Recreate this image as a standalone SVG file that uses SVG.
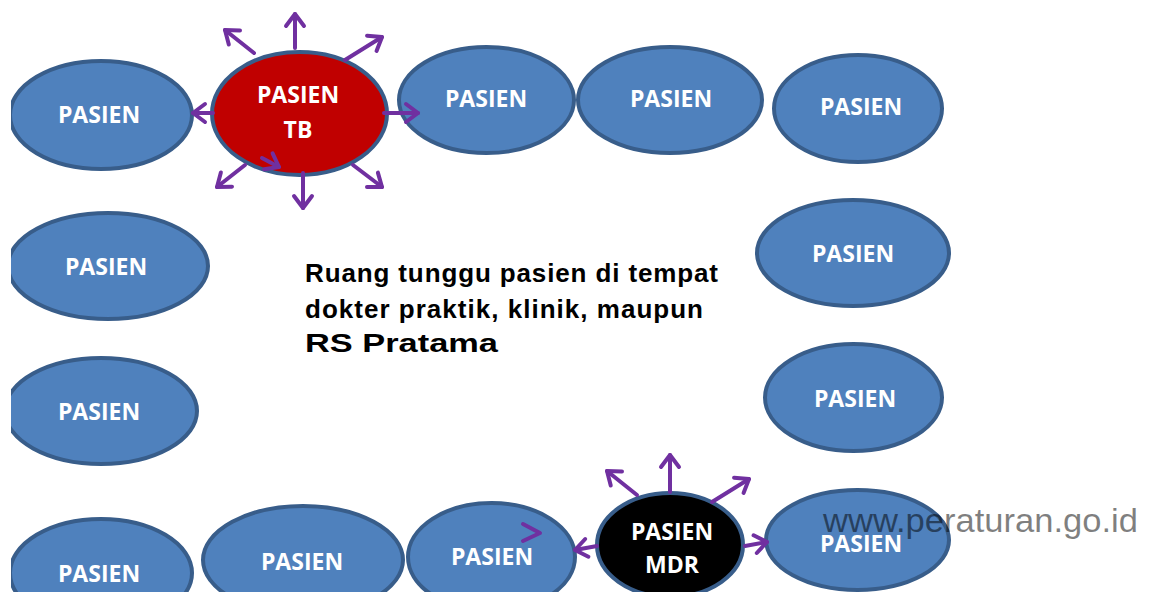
<svg xmlns="http://www.w3.org/2000/svg" width="1152" height="592" viewBox="0 0 1152 592">
<style>
.node{fill:#4f81bd;stroke:#385d8a;stroke-width:4}
.tb{fill:#c00000}
.mdr{fill:#000000}
.lbl{font-family:"Open Sans","Liberation Sans",sans-serif;font-weight:700;font-size:23px;fill:#ffffff;text-anchor:middle}
.arr{stroke:#7030a0;stroke-width:4;fill:none;stroke-linecap:round;marker-end:url(#ah)}
.main{font-family:"Liberation Sans","DejaVu Sans",sans-serif;font-weight:700;font-size:26px;fill:#000000}
.wm{font-family:"Liberation Sans",Arial,sans-serif;font-size:34px;fill:#000000;fill-opacity:0.5}
</style>
<defs>
<marker id="ah" markerUnits="userSpaceOnUse" markerWidth="40" markerHeight="40" refX="0" refY="0" orient="auto" overflow="visible">
<path d="M-12,-9 L0,0 L-12,9" fill="none" stroke="#7030a0" stroke-width="4" stroke-linecap="round" stroke-linejoin="round"/>
</marker>
<clipPath id="lc"><rect x="11" y="0" width="1141" height="592"/></clipPath>
</defs>
<rect x="0" y="0" width="1152" height="592" fill="#ffffff"/>
<g id="n1" clip-path="url(#lc)"><ellipse class="node" cx="101" cy="115" rx="91" ry="54"/><text class="lbl" x="99" y="123">PASIEN</text></g>
<g id="ntb"><ellipse class="node tb" cx="299.5" cy="113.5" rx="87.5" ry="61.5"/><text class="lbl" x="298" y="103">PASIEN</text><text class="lbl" x="298" y="138">TB</text></g>
<g id="n3"><ellipse class="node" cx="486.5" cy="100" rx="87.5" ry="53"/><text class="lbl" x="486" y="107">PASIEN</text></g>
<g id="n4"><ellipse class="node" cx="670" cy="100" rx="92" ry="53"/><text class="lbl" x="671" y="107">PASIEN</text></g>
<g id="n5"><ellipse class="node" cx="858" cy="108.5" rx="84" ry="53.5"/><text class="lbl" x="861" y="115">PASIEN</text></g>
<g id="n6" clip-path="url(#lc)"><ellipse class="node" cx="108" cy="266" rx="100" ry="53"/><text class="lbl" x="106" y="275">PASIEN</text></g>
<g id="n7"><ellipse class="node" cx="853" cy="253" rx="96" ry="53"/><text class="lbl" x="853" y="262">PASIEN</text></g>
<g id="n8" clip-path="url(#lc)"><ellipse class="node" cx="101" cy="411" rx="96" ry="53"/><text class="lbl" x="99" y="420">PASIEN</text></g>
<g id="n9"><ellipse class="node" cx="853.5" cy="397.5" rx="88.5" ry="53.5"/><text class="lbl" x="855" y="407">PASIEN</text></g>
<g id="n10" clip-path="url(#lc)"><ellipse class="node" cx="101" cy="573" rx="91" ry="54"/><text class="lbl" x="99" y="582">PASIEN</text></g>
<g id="n11"><ellipse class="node" cx="303" cy="560" rx="100" ry="54"/><text class="lbl" x="302" y="570">PASIEN</text></g>
<g id="n12"><ellipse class="node" cx="491.5" cy="557" rx="83.5" ry="54"/><text class="lbl" x="492" y="565">PASIEN</text></g>
<g id="nmdr"><ellipse class="node mdr" cx="670" cy="545" rx="73" ry="52"/><text class="lbl" x="672" y="540">PASIEN</text><text class="lbl" x="672" y="573">MDR</text></g>
<g id="n14"><ellipse class="node" cx="857.5" cy="540" rx="91.5" ry="50"/><text class="lbl" x="861" y="552">PASIEN</text></g>
<g id="connectors">
<line class="arr" x1="295" y1="48" x2="295" y2="14"/>
<line class="arr" x1="254" y1="53" x2="225" y2="30"/>
<line class="arr" x1="345" y1="60" x2="382" y2="37"/>
<line class="arr" x1="213" y1="113" x2="193" y2="113"/>
<line class="arr" x1="384" y1="113" x2="418" y2="113"/>
<line class="arr" x1="245" y1="165" x2="217" y2="187"/>
<line class="arr" x1="262" y1="158" x2="279" y2="167"/>
<line class="arr" x1="303" y1="173" x2="303" y2="208"/>
<line class="arr" x1="353" y1="165" x2="382" y2="187"/>
<line class="arr" x1="670" y1="492" x2="670" y2="455"/>
<line class="arr" x1="637" y1="495" x2="607" y2="471"/>
<line class="arr" x1="712" y1="502" x2="749" y2="479"/>
<line class="arr" x1="597" y1="546" x2="575" y2="550"/>
<line class="arr" x1="745" y1="546" x2="767" y2="542"/>
<polyline points="523,524 540,533 523,541" fill="none" stroke="#7030a0" stroke-width="4" stroke-linecap="round" stroke-linejoin="round"/>
</g>
<g id="caption">
<text class="main" x="305" y="282" textLength="413" lengthAdjust="spacing">Ruang tunggu pasien di tempat</text>
<text class="main" x="305" y="318" textLength="398" lengthAdjust="spacing">dokter praktik, klinik, maupun</text>
<text class="main" x="305" y="352" textLength="193" lengthAdjust="spacingAndGlyphs">RS Pratama</text>
</g>
<text class="wm" x="823" y="532" textLength="315" lengthAdjust="spacingAndGlyphs">www.peraturan.go.id</text>
</svg>
